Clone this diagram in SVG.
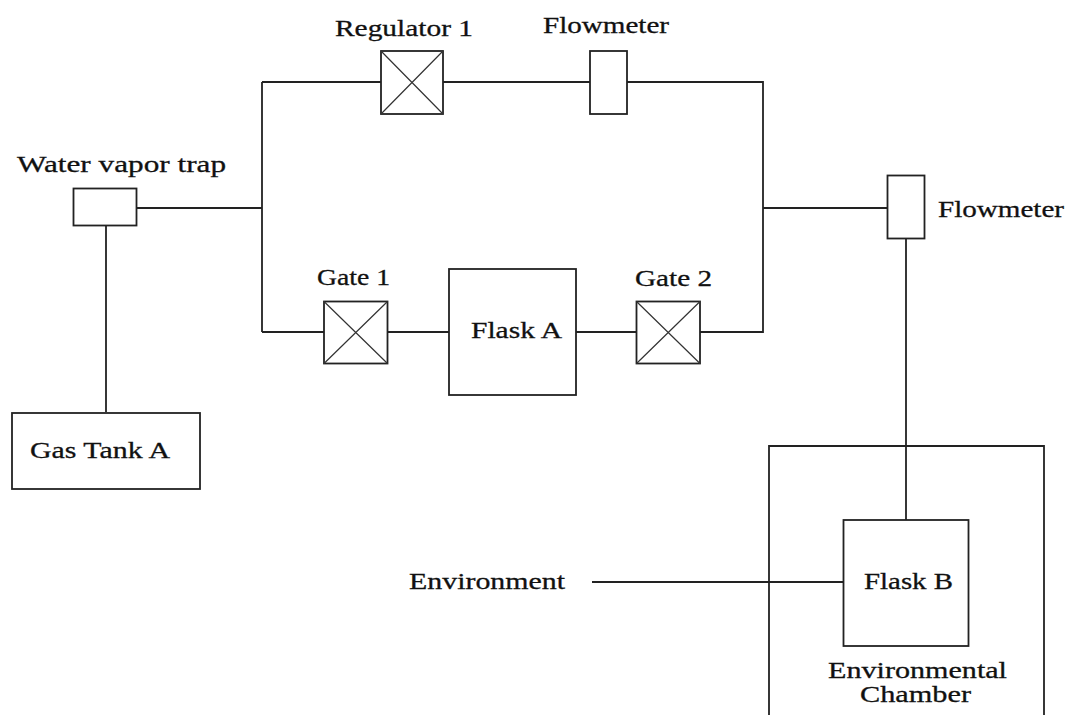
<svg xmlns="http://www.w3.org/2000/svg" width="1067" height="715" viewBox="0 0 1067 715">
<style>
.b{fill:#fff;stroke:#222;stroke-width:1.8}
.l{fill:none;stroke:#222;stroke-width:1.8}
.x{fill:none;stroke:#333;stroke-width:1.2}
text{font-family:"Liberation Serif","Times New Roman",serif;font-size:24px;fill:#111;stroke:#111;stroke-width:.3}
</style>
<rect width="1067" height="715" fill="#fff"/>
<g id="connectors">
<path class="l" d="M106 226V412M137 208H262M262 82V332M262 82H381M443 82H590M627 82H763V332H700M262 332H324M387 332H449M576 332H637M763 208H888M906 239V520M592 582H844"/>
</g>
<g id="chamber"><path class="l" d="M769 715V446H1044V715"/></g>
<g id="trap"><rect class="b" x="73.500" y="188.500" width="63" height="37"/><text x="17" y="172" textLength="209" lengthAdjust="spacingAndGlyphs">Water vapor trap</text></g>
<g id="tank"><rect class="b" x="12" y="413" width="188" height="76"/><text x="30" y="458" textLength="140" lengthAdjust="spacingAndGlyphs">Gas Tank A</text></g>
<g id="regulator"><rect class="b" x="381" y="51" width="62" height="63"/><path class="x" d="M381 51L443 114M443 51L381 114"/><text x="335" y="36" textLength="138" lengthAdjust="spacingAndGlyphs">Regulator 1</text></g>
<g id="flowmeter1"><rect class="b" x="590" y="51" width="37" height="63"/><text x="543" y="33" textLength="126" lengthAdjust="spacingAndGlyphs">Flowmeter</text></g>
<g id="gate1"><rect class="b" x="324" y="301.500" width="63.500" height="62"/><path class="x" d="M324 301.500L387.500 363.500M387.500 301.500L324 363.500"/><text x="317" y="285" textLength="73" lengthAdjust="spacingAndGlyphs">Gate 1</text></g>
<g id="flaskA"><rect class="b" x="449" y="269" width="127" height="126"/><text x="471" y="338" textLength="91" lengthAdjust="spacingAndGlyphs">Flask A</text></g>
<g id="gate2"><rect class="b" x="636.500" y="301.500" width="63.500" height="62"/><path class="x" d="M636.500 301.500L700 363.500M700 301.500L636.500 363.500"/><text x="635" y="286" textLength="77" lengthAdjust="spacingAndGlyphs">Gate 2</text></g>
<g id="flowmeter2"><rect class="b" x="887.500" y="175.500" width="37" height="63"/><text x="938" y="217" textLength="126" lengthAdjust="spacingAndGlyphs">Flowmeter</text></g>
<g id="flaskB"><rect class="b" x="843.500" y="520" width="125" height="126"/><text x="864" y="589" textLength="89" lengthAdjust="spacingAndGlyphs">Flask B</text></g>
<g id="environment"><text x="409" y="589" textLength="156" lengthAdjust="spacingAndGlyphs">Environment</text></g>
<g id="chamberLabel"><text x="828" y="678" textLength="179" lengthAdjust="spacingAndGlyphs">Environmental</text><text x="860" y="702" textLength="111" lengthAdjust="spacingAndGlyphs">Chamber</text></g>
</svg>
